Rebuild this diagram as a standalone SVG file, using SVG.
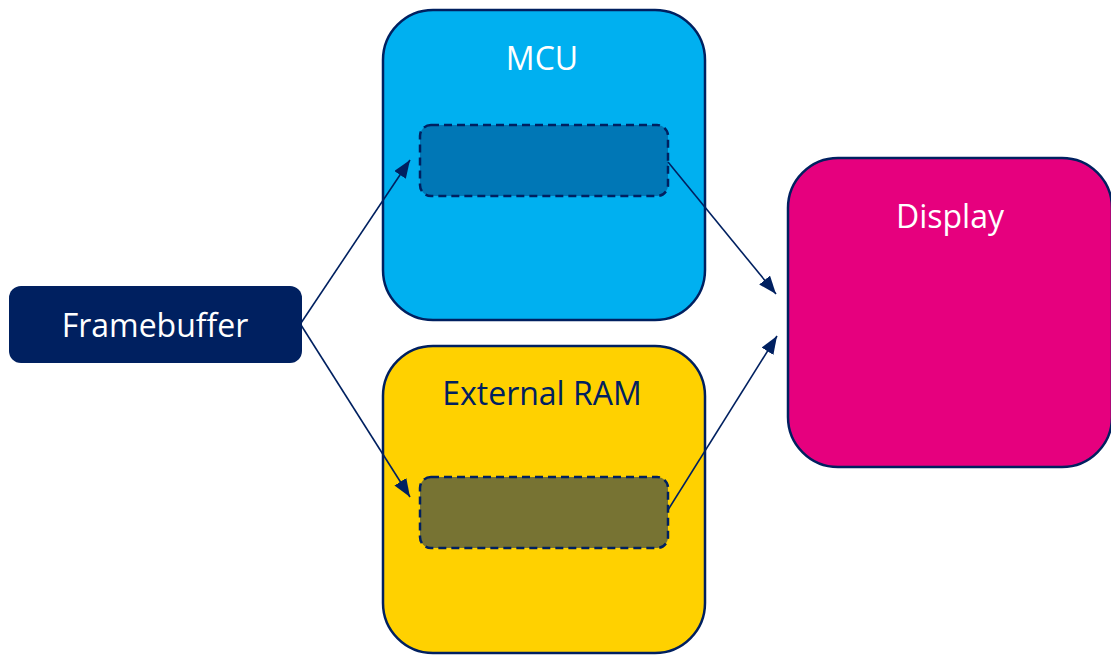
<svg xmlns="http://www.w3.org/2000/svg" width="1111" height="655" viewBox="0 0 1111 655">
<style>
.box{stroke:#002060;stroke-width:2.5}
.inner{stroke:#002060;stroke-width:2.5;stroke-dasharray:8 5}
.lbl{font-family:"Open Sans","Liberation Sans",sans-serif;font-size:32px;text-anchor:middle}
.conn{stroke:#002060;stroke-width:1.6;fill:none;marker-end:url(#ah)}
</style>
<defs>
<marker id="ah" viewBox="0 0 10 10" refX="10" refY="5" markerWidth="18" markerHeight="14" markerUnits="userSpaceOnUse" orient="auto" preserveAspectRatio="none">
<path d="M0,0 L10,5 L0,10 z" fill="#002060"/>
</marker>
</defs>
<rect width="1111" height="655" fill="#ffffff"/>
<g id="mcu">
<rect class="box" x="383" y="10" width="322" height="310" rx="50" fill="#00B0F0"/>
<text class="lbl" x="542" y="70" fill="#ffffff">MCU</text>
<rect class="inner" x="420" y="125" width="248" height="71" rx="11" fill="#0077B6"/>
</g>
<g id="extram">
<rect class="box" x="383" y="346" width="322" height="307" rx="50" fill="#FFD100"/>
<text class="lbl" x="542" y="405" fill="#002060">External RAM</text>
<rect class="inner" x="420" y="477" width="248" height="71" rx="11" fill="#777333"/>
</g>
<g id="display">
<rect class="box" x="788" y="158" width="324" height="309" rx="50" fill="#E6007E"/>
<text class="lbl" x="950" y="228" fill="#ffffff">Display</text>
</g>
<g id="framebuffer">
<rect x="9" y="286" width="293" height="77" rx="12" fill="#002060"/>
<text class="lbl" x="155" y="337" fill="#ffffff">Framebuffer</text>
</g>
<g id="connectors">
<line class="conn" x1="301" y1="323" x2="410" y2="160"/>
<line class="conn" x1="301" y1="325" x2="410" y2="497"/>
<line class="conn" x1="668" y1="162" x2="776" y2="294"/>
<line class="conn" x1="668" y1="510" x2="777" y2="336"/>
</g>
</svg>
